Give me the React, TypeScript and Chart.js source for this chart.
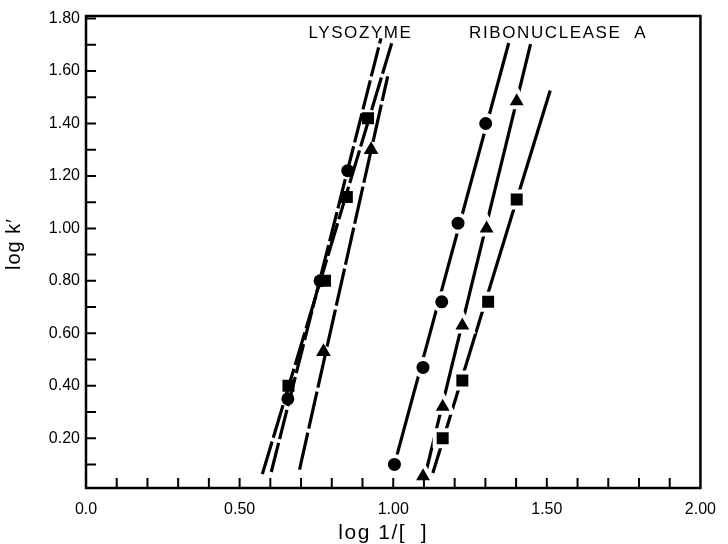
import React, { useEffect, useRef } from 'react';
import { Chart, registerables } from 'chart.js';

Chart.register(...registerables);

const FONT = '"Liberation Sans", Arial, Helvetica, sans-serif';

// ---- axis ticks ----
const xTickValues = [0, 0.1, 0.2, 0.3, 0.4, 0.5, 0.6, 0.7, 0.8, 0.9, 1.0, 1.1, 1.2, 1.3, 1.4, 1.5, 1.6, 1.7, 1.8, 1.9, 2.0];
const xLabelValues = [0, 0.5, 1.0, 1.5, 2.0];
const xLabelTexts = ['0.0', '0.50', '1.00', '1.50', '2.00'];
const yTickValues = [0.1, 0.2, 0.3, 0.4, 0.5, 0.6, 0.7, 0.8, 0.9, 1.0, 1.1, 1.2, 1.3, 1.4, 1.5, 1.6, 1.7, 1.8];
const yLabelValues = [0.2, 0.4, 0.6, 0.8, 1.0, 1.2, 1.4, 1.6, 1.8];
const yLabelTexts = ['0.20', '0.40', '0.60', '0.80', '1.00', '1.20', '1.40', '1.60', '1.80'];

// ---- Lysozyme measured points ----
const lysoCircleX = [0.657, 0.762, 0.852];
const lysoCircleY = [0.35, 0.80, 1.22];
const lysoSquareX = [0.659, 0.778, 0.849, 0.918];
const lysoSquareY = [0.40, 0.80, 1.12, 1.42];
const lysoTriangleX = [0.773, 0.928];
const lysoTriangleY = [0.53, 1.30];

// ---- Ribonuclease A measured points ----
const ribCircleX = [1.004, 1.097, 1.158, 1.211, 1.301];
const ribCircleY = [0.10, 0.47, 0.72, 1.02, 1.40];
const ribTriangleX = [1.097, 1.161, 1.225, 1.304, 1.402];
const ribTriangleY = [0.055, 0.32, 0.63, 1.00, 1.485];
const ribSquareX = [1.161, 1.225, 1.309, 1.402];
const ribSquareY = [0.20, 0.42, 0.72, 1.11];

// ---- fitted lines (end points) ----
const lysoCircleFitX = [0.603, 0.960];
const lysoCircleFitY = [0.071, 1.725];
const lysoSquareFitX = [0.574, 0.995];
const lysoSquareFitY = [0.063, 1.706];
const lysoTriangleFitX = [0.695, 0.982];
const lysoTriangleFitY = [0.08, 1.58];
const ribCircleFitX = [1.004, 1.376];
const ribCircleFitY = [0.10, 1.707];
const ribTriangleFitX = [1.100, 1.447];
const ribTriangleFitY = [0.04, 1.703];
const ribSquareFitX = [1.129, 1.511];
const ribSquareFitY = [0.067, 1.526];

// ---- annotations ----
const annotationTexts = ['LYSOZYME', 'RIBONUCLEASE  A'];
const annotationX = [0.724, 1.247];
const annotationY = [1.727, 1.727];
const xTitle = 'log 1/[  ]';
const yTitle = 'log k\u2032';

const zip = (xs: number[], ys: number[]) => xs.map((x, i) => ({ x, y: ys[i] }));
const labelFor = (vals: number[], texts: string[], v: number) => {
  const i = vals.findIndex((l) => Math.abs(l - v) < 1e-6);
  return i >= 0 ? texts[i] : '';
};

const markerSet = (data: { x: number; y: number }[], style: string, radius: number, halo: number) => ({
  data,
  showLine: false,
  pointStyle: style,
  pointRadius: radius,
  pointHoverRadius: radius,
  pointBackgroundColor: '#000',
  pointBorderColor: '#fff',
  pointBorderWidth: halo,
  order: 1,
});

const lineSet = (data: { x: number; y: number }[], dash: number[]) => ({
  data,
  showLine: true,
  pointRadius: 0,
  borderColor: '#000',
  borderWidth: 3.2,
  borderDash: dash,
  borderCapStyle: 'butt',
  order: 2,
});

const framePlugin = {
  id: 'frame',
  afterDraw(chart: any) {
    const { ctx, chartArea: a, scales } = chart;
    const xs = scales.x;
    const ys = scales.y;
    ctx.save();
    ctx.strokeStyle = '#000';
    ctx.lineWidth = 2.5;
    ctx.strokeRect(a.left, a.top, a.right - a.left, a.bottom - a.top);
    ctx.lineWidth = 2;
    ctx.beginPath();
    xs.ticks.forEach((t: any) => {
      const px = xs.getPixelForValue(t.value);
      if (px <= a.left + 2 || px >= a.right - 2) return;
      ctx.moveTo(px, a.bottom);
      ctx.lineTo(px, a.bottom - 10);
    });
    ys.ticks.forEach((t: any) => {
      const py = ys.getPixelForValue(t.value);
      if (py <= a.top + 2 || py >= a.bottom - 2) return;
      ctx.moveTo(a.left, py);
      ctx.lineTo(a.left + 10, py);
    });
    ctx.stroke();

    ctx.fillStyle = '#000';
    // annotations
    ctx.font = `17px ${FONT}`;
    (ctx as any).letterSpacing = '1.6px';
    ctx.textAlign = 'left';
    ctx.textBaseline = 'alphabetic';
    annotationTexts.forEach((t, i) => {
      ctx.fillText(t, xs.getPixelForValue(annotationX[i]), ys.getPixelForValue(annotationY[i]));
    });
    // axis titles
    ctx.font = `21px ${FONT}`;
    (ctx as any).letterSpacing = '1.5px';
    ctx.textAlign = 'center';
    ctx.fillText(xTitle, (a.left + a.right) / 2 - 10, chart.height - 5);
    ctx.font = `20px ${FONT}`;
    (ctx as any).letterSpacing = '1px';
    ctx.translate(20, (a.top + a.bottom) / 2 - 8);
    ctx.rotate(-Math.PI / 2);
    ctx.fillText(yTitle, 0, 0);
    (ctx as any).letterSpacing = '0px';
    ctx.restore();
  },
};

export default function App() {
  const ref = useRef<HTMLCanvasElement | null>(null);

  useEffect(() => {
    document.body.style.margin = '0';
    const canvas = ref.current;
    if (!canvas) return;
    const chart = new Chart(canvas, {
      type: 'scatter',
      data: {
        datasets: [
          markerSet(zip(lysoCircleX, lysoCircleY), 'circle', 6.5, 0),
          markerSet(zip(lysoSquareX, lysoSquareY), 'rect', 8.5, 0),
          markerSet(zip(lysoTriangleX, lysoTriangleY), 'triangle', 8.5, 0),
          markerSet(zip(ribCircleX, ribCircleY), 'circle', 8.5, 4),
          markerSet(zip(ribTriangleX, ribTriangleY), 'triangle', 12, 4),
          markerSet(zip(ribSquareX, ribSquareY), 'rect', 11.3, 4),
          lineSet(zip(lysoCircleFitX, lysoCircleFitY), [30, 4]),
          lineSet(zip(lysoSquareFitX, lysoSquareFitY), [34, 4]),
          lineSet(zip(lysoTriangleFitX, lysoTriangleFitY), [38, 4]),
          lineSet(zip(ribCircleFitX, ribCircleFitY), []),
          lineSet(zip(ribTriangleFitX, ribTriangleFitY), []),
          lineSet(zip(ribSquareFitX, ribSquareFitY), []),
        ] as any,
      },
      options: {
        responsive: false,
        animation: false,
        events: [],
        layout: { padding: { top: 14, right: 16, bottom: 0, left: 0 } },
        plugins: { legend: { display: false }, tooltip: { enabled: false } },
        scales: {
          x: {
            type: 'linear',
            min: 0,
            max: 2,
            afterBuildTicks: (s: any) => {
              s.ticks = xTickValues.map((v) => ({ value: v }));
            },
            afterFit: (s: any) => {
              s.height = 56;
            },
            grid: { display: false, drawTicks: false },
            border: { display: false },
            ticks: {
              autoSkip: false,
              maxRotation: 0,
              padding: 12,
              color: '#000',
              font: { family: FONT, size: 16 },
              callback: (v: any) => labelFor(xLabelValues, xLabelTexts, Number(v)),
            },
          },
          y: {
            type: 'linear',
            min: 0.01,
            max: 1.81,
            afterBuildTicks: (s: any) => {
              s.ticks = yTickValues.map((v) => ({ value: v }));
            },
            afterFit: (s: any) => {
              s.width = 86;
            },
            grid: { display: false, drawTicks: false },
            border: { display: false },
            ticks: {
              autoSkip: false,
              padding: 6,
              color: '#000',
              font: { family: FONT, size: 16 },
              callback: (v: any) => labelFor(yLabelValues, yLabelTexts, Number(v)),
            },
          },
        },
      } as any,
      plugins: [framePlugin],
    });
    return () => chart.destroy();
  }, []);

  return (
    <div style={{ width: 728, height: 544, background: '#fff' }}>
      <canvas ref={ref} width={728} height={544} style={{ display: 'block', width: 728, height: 544 }} />
    </div>
  );
}
